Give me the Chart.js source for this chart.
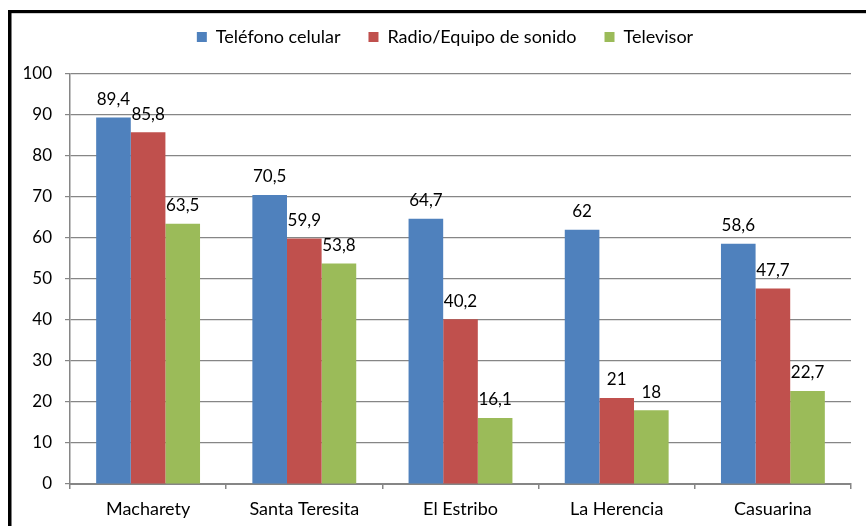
<!DOCTYPE html>
<html>
<head>
<meta charset="utf-8">
<script src="https://cdn.jsdelivr.net/npm/chart.js@4.4.1/dist/chart.umd.min.js"></script>
<style>
  html, body { margin: 0; padding: 0; background: #fff; }
  #box { width: 866px; height: 526px; }
</style>
</head>
<body>
<div id="box"><canvas id="chart-area"></canvas></div>
<script>
// localidades y porcentajes por equipo
var localidades = ["Macharety", "Santa Teresita", "El Estribo", "La Herencia", "Casuarina"];
var telefono = [89.4, 70.5, 64.7, 62, 58.6];
var radio = [85.8, 59.9, 40.2, 21, 47.7];
var televisor = [63.5, 53.8, 16.1, 18, 22.7];
var serieNombres = ["Teléfono celular", "Radio/Equipo de sonido", "Televisor"];
var serieColores = ["#4F81BD", "#C0504D", "#9BBB59"];

var fuente = "Lato, 'Open Sans', sans-serif";
var gris = "#868686";

// marco negro arriba y a la izquierda; leyenda con alto fijo
var marco = {
    id: 'marco',
    afterInit: function(chart) {
        var legend = chart.legend;
        if (legend && !legend._altoFijo) {
            var fit = legend.fit;
            legend.fit = function() {
                fit.call(this);
                this.height = 74;
            };
            legend._altoFijo = true;
        }
    },
    beforeDraw: function(chart) {
        // centrar la leyenda sobre el recuadro del grafico
        chart.legend.left = 39;
        chart.legend.right = chart.chartArea.right;
    },
    afterDraw: function(chart) {
        var ctx = chart.ctx;
        ctx.save();
        ctx.fillStyle = "#d0d0d0";
        ctx.fillRect(11, 13, 866, 1);
        ctx.fillStyle = "#000";
        ctx.fillRect(8, 10, 866, 3);
        ctx.fillRect(8, 10, 3.5, 526);
        ctx.restore();
    }
};

// valores encima de cada barra
var etiquetas = {
    id: 'etiquetas',
    afterDatasetsDraw: function(chart) {
        var ctx = chart.ctx;
        ctx.save();
        ctx.font = "17px " + fuente;
        ctx.fillStyle = "#000";
        ctx.textAlign = "center";
        ctx.textBaseline = "middle";
        chart.data.datasets.forEach(function(ds, i) {
            chart.getDatasetMeta(i).data.forEach(function(bar, j) {
                ctx.fillText(String(ds.data[j]).replace(".", ","), bar.x, bar.y - 18);
            });
        });
        ctx.restore();
    }
};

var series = [telefono, radio, televisor];
var datasets = [];
for (var i = 0; i < series.length; i++) {
    datasets.push({
        label: serieNombres[i],
        data: series[i],
        backgroundColor: serieColores[i],
        borderWidth: 0,
        barPercentage: 1,
        categoryPercentage: 0.665
    });
}

var config = {
    type: 'bar',
    data: { labels: localidades, datasets: datasets },
    options: {
        responsive: true,
        maintainAspectRatio: false,
        animation: false,
        layout: { padding: { left: 12, right: 15, top: 0, bottom: 0 } },
        plugins: {
            tooltip: { enabled: false },
            legend: {
                position: 'top',
                labels: {
                    boxWidth: 10,
                    boxHeight: 10,
                    padding: 28,
                    color: "#000",
                    font: { family: fuente, size: 18 }
                }
            }
        },
        scales: {
            x: {
                grid: {
                    drawOnChartArea: false,
                    drawTicks: true,
                    tickLength: 5,
                    color: gris,
                    lineWidth: 1.5
                },
                border: { color: gris, width: 2 },
                ticks: { color: "#000", padding: 9, font: { family: fuente, size: 18 }, maxRotation: 0 },
                afterFit: function(scale) { scale.height = 42; }
            },
            y: {
                min: 0,
                max: 100,
                ticks: { stepSize: 10, color: "#000", padding: 13, font: { family: fuente, size: 17 } },
                grid: { color: gris, lineWidth: 1.2, tickLength: 5 },
                border: { color: gris, width: 1.5 },
                afterFit: function(scale) { scale.width = 58; }
            }
        }
    },
    plugins: [marco, etiquetas]
};

var ctx = document.getElementById('chart-area').getContext('2d');
var grafico = new Chart(ctx, config);
</script>
</body>
</html>
